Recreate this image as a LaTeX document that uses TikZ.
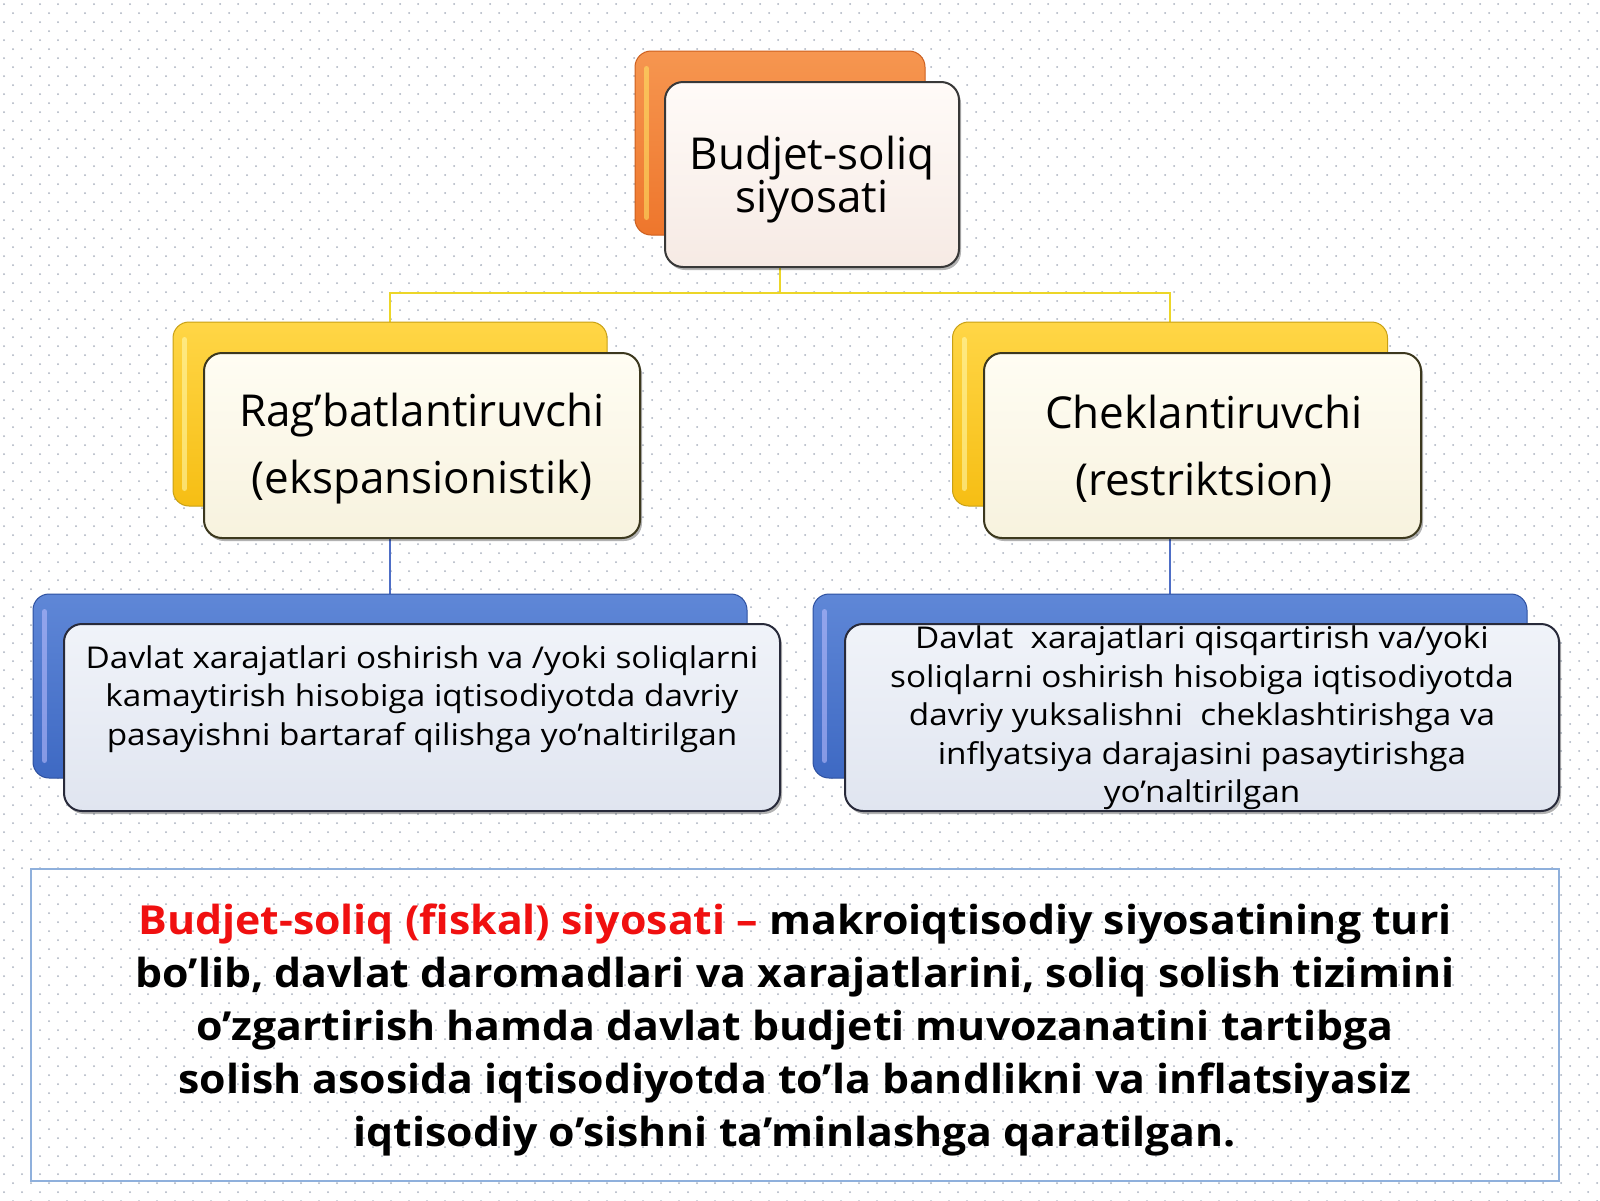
\documentclass[tikz,border=0pt]{standalone}
\usepackage{fontspec}
\setmainfont{Open Sans}
\newfontfamily\widebody[FakeStretch=1.11]{Open Sans}
\newfontfamily\widedef[FakeStretch=1.07]{Open Sans}
\usetikzlibrary{shadows}
\pgfdeclarelayer{dots}
\pgfdeclarelayer{conn}
\pgfsetlayers{dots,conn,main}
\definecolor{dotc}{RGB}{168,176,190}
\definecolor{orA}{RGB}{246,150,80}
\definecolor{orB}{RGB}{238,118,44}
\definecolor{orD}{RGB}{205,95,30}
\definecolor{yeA}{RGB}{255,214,70}
\definecolor{yeB}{RGB}{246,190,20}
\definecolor{yeD}{RGB}{200,160,20}
\definecolor{blA}{RGB}{95,135,215}
\definecolor{blB}{RGB}{62,105,195}
\definecolor{blD}{RGB}{45,80,160}
\definecolor{yline}{RGB}{236,214,40}
\definecolor{bline}{RGB}{78,110,198}
\definecolor{defc}{RGB}{143,176,220}
\definecolor{txtred}{RGB}{240,16,16}
\begin{document}
\begin{tikzpicture}[x=1pt,y=-1pt,
  backbox/.style={rounded corners=16pt, line width=1pt, inner sep=0pt, minimum height=184pt},
  orback/.style={backbox, draw=orD, top color=orA, bottom color=orB},
  yeback/.style={backbox, draw=yeD, top color=yeA, bottom color=yeB},
  blback/.style={backbox, draw=blD, top color=blA, bottom color=blB},
  frontbox/.style={rounded corners=18pt, line width=2pt, inner sep=0pt,
     drop shadow={shadow xshift=2pt, shadow yshift=-3pt, opacity=.3, fill=black}},
  orfront/.style={frontbox, draw=black!78, top color={rgb,255:red,255;green,251;blue,248}, bottom color={rgb,255:red,246;green,234;blue,228}},
  yefront/.style={frontbox, draw={rgb,255:red,60;green,56;blue,30}, top color={rgb,255:red,255;green,253;blue,243}, bottom color={rgb,255:red,247;green,242;blue,222}},
  blfront/.style={frontbox, draw={rgb,255:red,40;green,42;blue,58}, top color={rgb,255:red,240;green,243;blue,249}, bottom color={rgb,255:red,224;green,229;blue,240}},
  hilite/.style={line width=5pt, line cap=round, opacity=.55, draw=#1},
  bigtext/.style={align=center, inner sep=0pt, font=\fontsize{44}{43}\selectfont},
  ytext/.style={align=center, inner sep=0pt, font=\fontsize{44}{67}\selectfont},
  btext/.style={align=center, inner sep=0pt, font=\widebody\fontsize{30}{38.5}\selectfont},
  deftext/.style={align=center, inner sep=0pt, font=\widedef\bfseries\fontsize{40}{53}\selectfont},
  yconn/.style={draw=yline, line width=2.5pt},
  bconn/.style={draw=bline, line width=2pt},
  dotline/.style={draw=dotc, line width=2pt, line cap=round, dash pattern=on 0pt off 18pt}
]
\useasboundingbox (0,0) rectangle (1600,1200);
\begin{pgfonlayer}{dots}
  \fill[white] (0,0) rectangle (1600,1200);
  \foreach \r in {0,...,133} {
    \pgfmathsetmacro\ph{mod(\r,2)*9}
    \draw[dotline, dash phase=\ph pt] (4,\r*9+4) -- (1600,\r*9+4);
  }
\end{pgfonlayer}

% back boxes
\node[orback, minimum width=290pt] (tb) at (780,143) {};
\node[yeback, minimum width=434pt] (lb) at (390,414) {};
\node[yeback, minimum width=435pt] (rb) at (1170,414) {};
\node[blback, minimum width=714pt] (lbb) at (390,686) {};
\node[blback, minimum width=714pt] (rbb) at (1170,686) {};

% highlights on back boxes
\draw[hilite=orange!30!yellow!60!white] ([xshift=12pt,yshift=-18pt]tb.north west) -- ([xshift=12pt,yshift=18pt]tb.south west);
\draw[hilite=yellow!30!white] ([xshift=12pt,yshift=-18pt]lb.north west) -- ([xshift=12pt,yshift=18pt]lb.south west);
\draw[hilite=yellow!30!white] ([xshift=12pt,yshift=-18pt]rb.north west) -- ([xshift=12pt,yshift=18pt]rb.south west);
\draw[hilite=blue!25!white] ([xshift=12pt,yshift=-18pt]lbb.north west) -- ([xshift=12pt,yshift=18pt]lbb.south west);
\draw[hilite=blue!25!white] ([xshift=12pt,yshift=-18pt]rbb.north west) -- ([xshift=12pt,yshift=18pt]rbb.south west);

% front boxes
\node[orfront, minimum width=294pt, minimum height=185pt] (tf) at (812,174.5) {};
\node[yefront, minimum width=436pt, minimum height=185pt] (lf) at (422,445.5) {};
\node[yefront, minimum width=437pt, minimum height=185pt] (rf) at (1202.5,445.5) {};
\node[blfront, minimum width=716pt, minimum height=187pt] (lbf) at (422,717.5) {};
\node[blfront, minimum width=714pt, minimum height=187pt] (rbf) at (1202,717.5) {};

% texts
\node[bigtext] (tt) at (812,180) {Budjet-soliq\\siyosati};
\node[ytext] (lt) at (422,449) {Rag’batlantiruvchi\\(ekspansionistik)};
\node[ytext] (rt) at (1204,449) {Cheklantiruvchi\\(restriktsion)};
\node[btext] (lbt) at (422,699) {Davlat xarajatlari oshirish va /yoki soliqlarni\\kamaytirish hisobiga iqtisodiyotda davriy\\pasayishni bartaraf qilishga yo’naltirilgan};
\node[btext] (rbt) at (1202,718) {Davlat\ \ xarajatlari qisqartirish va/yoki\\soliqlarni oshirish hisobiga iqtisodiyotda\\davriy yuksalishni\ \ cheklashtirishga va\\inflyatsiya darajasini pasaytirishga\\yo’naltirilgan};

% definition box
\node[draw=defc, line width=1.5pt, minimum width=1528pt, minimum height=312pt, inner sep=0pt] (def) at (795,1025) {};
\node[deftext] (dt) at (795,1030) {{\color{txtred}Budjet-soliq (fiskal) siyosati –} makroiqtisodiy siyosatining turi\\bo’lib, davlat daromadlari va xarajatlarini, soliq solish tizimini\\o’zgartirish hamda davlat budjeti muvozanatini tartibga\\solish asosida iqtisodiyotda to’la bandlikni va inflatsiyasiz\\iqtisodiy o’sishni ta’minlashga qaratilgan.};

% connectors
\coordinate (yoke) at (780,293);
\begin{pgfonlayer}{conn}
  \draw[yconn] (tb.center) -- (yoke);
  \draw[yconn] (lb.north) |- (yoke) -| (rb.north);
  \draw[bconn] (lb.center) -- (lbb.north);
  \draw[bconn] (rb.center) -- (rbb.north);
\end{pgfonlayer}
\end{tikzpicture}
\end{document}
